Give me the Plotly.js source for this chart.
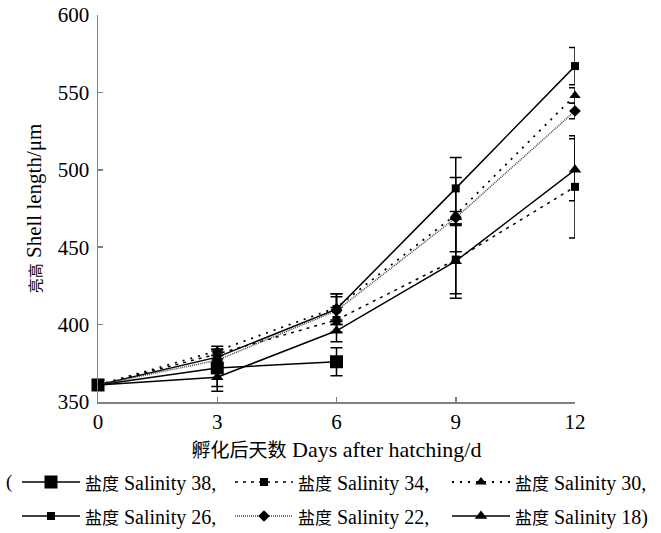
<!DOCTYPE html>
<html>
<head>
<meta charset="utf-8">
<script src="https://cdn.plot.ly/plotly-3.0.1.min.js"></script>
<style>html,body{margin:0;padding:0;background:#fff;}#chart{width:661px;height:533px;}</style>
</head>
<body>
<div id="chart"></div>
<script>
const days = [0, 3, 6, 9, 12];
const xTicks = [0, 3, 6, 9, 12];
const yTicks = [350, 400, 450, 500, 550, 600];

const cjkLabel = "盐度";
const salinities = ["38,", "34,", "30,", "26,", "22,", "18)"];

const s38 = [361, 372, 376];
const s34 = [361, 381, 403, 442, 489];
const s30 = [361, 383, 411, 471, 548];
const s26 = [361, 379, 410, 488, 567];
const s22 = [361, 377, 409, 469, 538];
const s18 = [361, 366, 396, 441, 500];

const e38 = [0, 12, 9];
const e34 = [0, 3, 8, 22, 33];
const e30 = [0, 3, 9, 24, 5];
const e26 = [0, 4, 10, 20, 12];
const e22 = [0, 3, 9, 4, 5];
const e18 = [0, 9, 7, 24, 20];

const FONT = "Liberation Serif";
const CJK = "Noto Sans CJK SC";

function cjk(text, size) {
  return '<span style="font-family:' + CJK + ';font-size:' + size + 'px">' + text + '</span>';
}

function legName(i) {
  return cjk(cjkLabel, 17) + ' Salinity ' + salinities[i];
}

function tr(y, err, i, symbol, size, dash, lw, lcolor) {
  return {
    x: days.slice(0, y.length), y: y, name: legName(i), type: 'scatter', mode: 'lines+markers',
    cliponaxis: false, legend: i === 0 ? 'legend' : 'legend' + (i + 1),
    line: {color: lcolor, width: lw, dash: dash},
    marker: {symbol: symbol, size: size, color: '#000'},
    error_y: {type: 'data', array: err, visible: true, color: '#000', thickness: 1.5, width: 6}
  };
}

const data = [
  tr(s38, e38, 0, 'square', 13, 'solid', 1.5, '#000'),
  tr(s34, e34, 1, 'square', 8, '3px,5px', 1.5, '#000'),
  tr(s30, e30, 2, 'triangle-up', 10, '2px,6px', 1.8, '#000'),
  tr(s26, e26, 3, 'square', 8, 'solid', 1.5, '#000'),
  tr(s22, e22, 4, 'diamond', 9, '1px,1px', 1.5, '#444'),
  tr(s18, e18, 5, 'triangle-up', 11, 'solid', 1.5, '#000')
];

const colX = [17, 230, 447];
const rowY = [482, 516];

function leg(col, row) {
  return {
    orientation: 'h', xref: 'container', yref: 'container', xanchor: 'left', yanchor: 'middle',
    x: colX[col] / 661, y: 1 - rowY[row] / 533,
    font: {family: FONT, size: 20, color: '#000'}, itemwidth: 58,
    bgcolor: 'rgba(0,0,0,0)', borderwidth: 0
  };
}

const layout = {
  width: 661, height: 533,
  margin: {l: 98, r: 86, t: 15, b: 131},
  paper_bgcolor: '#fff', plot_bgcolor: '#fff',
  font: {family: FONT, size: 21, color: '#000'},
  showlegend: true,
  legend: leg(0, 0), legend2: leg(1, 0), legend3: leg(2, 0),
  legend4: leg(0, 1), legend5: leg(1, 1), legend6: leg(2, 1),
  xaxis: {
    range: [0, 12], tickvals: xTicks, ticktext: xTicks.map(String),
    showline: true, linecolor: '#808080', linewidth: 1.5,
    ticks: 'inside', ticklen: 5, tickcolor: '#808080', tickwidth: 1.5,
    showgrid: false, zeroline: false,
    tickfont: {family: FONT, size: 21, color: '#000'},
    title: {text: cjk('孵化后天数', 19) + ' Days after hatching/d',
            font: {family: FONT, size: 22, color: '#000'}, standoff: 20}
  },
  yaxis: {
    range: [350, 600], tickvals: yTicks, ticktext: yTicks.map(String),
    showline: true, linecolor: '#808080', linewidth: 1.5,
    ticks: 'inside', ticklen: 5, tickcolor: '#808080', tickwidth: 1.5,
    showgrid: false, zeroline: false, ticklabelstandoff: 3,
    tickfont: {family: FONT, size: 21, color: '#000'},
    title: {text: cjk('亮高', 15) + ' Shell length/μm',
            font: {family: FONT, size: 21, color: '#000'}, standoff: 10}
  },
  annotations: [
    {text: '(', xref: 'paper', yref: 'paper', x: -89 / 478, y: (533 - 131 - 482) / 387,
     xanchor: 'center', yanchor: 'middle', showarrow: false, font: {family: FONT, size: 19}}
  ]
};

Plotly.newPlot('chart', data, layout, {displayModeBar: false, staticPlot: true});
</script>
</body>
</html>
